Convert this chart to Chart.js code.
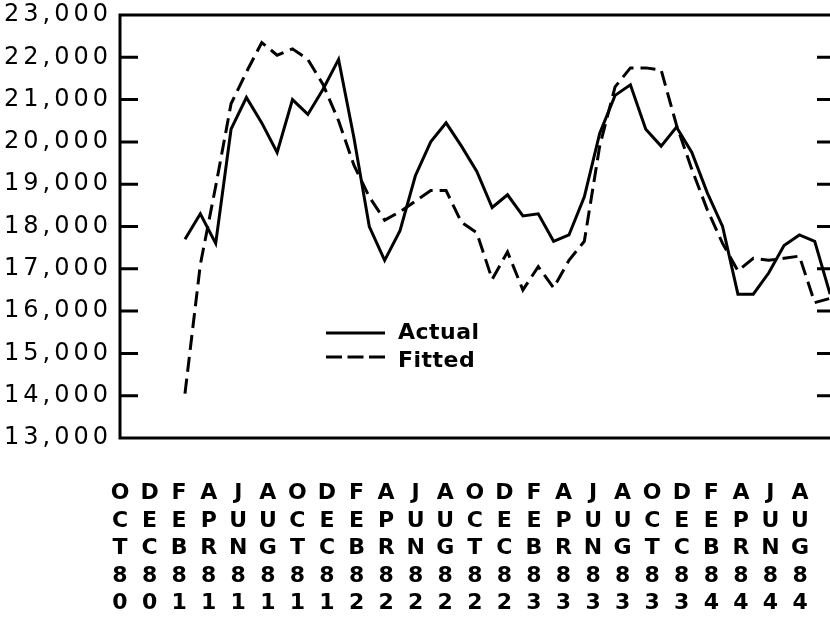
<!DOCTYPE html>
<html>
<head>
<meta charset="utf-8">
<script src="https://cdn.jsdelivr.net/npm/chart.js@4.4.1/dist/chart.umd.min.js"></script>
<style>
  html, body { margin: 0; padding: 0; background: #fff; overflow: hidden; }
  #wrap { width: 840px; height: 619px; }
</style>
</head>
<body>
<div id="wrap"><canvas id="fitChart" width="840" height="619"></canvas></div>
<script>
// monthly observations, FEB81 .. AUG84
const months = [
    'FEB81', 'MAR81', 'APR81', 'MAY81', 'JUN81', 'JUL81', 'AUG81', 'SEP81', 'OCT81', 'NOV81', 'DEC81',
    'JAN82', 'FEB82', 'MAR82', 'APR82', 'MAY82', 'JUN82', 'JUL82', 'AUG82', 'SEP82', 'OCT82', 'NOV82', 'DEC82',
    'JAN83', 'FEB83', 'MAR83', 'APR83', 'MAY83', 'JUN83', 'JUL83', 'AUG83', 'SEP83', 'OCT83', 'NOV83', 'DEC83',
    'JAN84', 'FEB84', 'MAR84', 'APR84', 'MAY84', 'JUN84', 'JUL84', 'AUG84'
];
const firstMonth = 4; // FEB81 counted from OCT80

const actual = [
    17700, 18300, 17600, 20300, 21050, 20450, 19750, 21000, 20650, 21250, 21950,
    20100, 18000, 17200, 17900, 19200, 20000, 20450, 19900, 19300, 18450, 18750, 18250,
    18300, 17650, 17800, 18700, 20200, 21100, 21350, 20300, 19900, 20350, 19750, 18800,
    18000, 16400, 16400, 16900, 17550, 17800, 17650, 16400
];
const fitted = [
    14050, 17100, 18950, 20900, 21650, 22350, 22050, 22200, 21950, 21350, 20500,
    19450, 18700, 18150, 18350, 18600, 18850, 18850, 18100, 17850, 16750, 17400, 16500,
    17050, 16550, 17200, 17650, 19900, 21300, 21750, 21750, 21700, 20400, 19350, 18400,
    17600, 16950, 17250, 17200, 17250, 17300, 16200, 16300
];

// bottom label row, every second month starting OCT80
const xTickLabels = [
    'OCT80', 'DEC80', 'FEB81', 'APR81', 'JUN81', 'AUG81', 'OCT81', 'DEC81',
    'FEB82', 'APR82', 'JUN82', 'AUG82', 'OCT82', 'DEC82', 'FEB83', 'APR83',
    'JUN83', 'AUG83', 'OCT83', 'DEC83', 'FEB84', 'APR84', 'JUN84', 'AUG84'
];
const yMin = 13000;
const yMax = 23000;
const yStep = 1000;

const FONT = "'DejaVu Sans', sans-serif";

const framePlugin = {
    id: 'frame',
    beforeDraw(chart) {
        chart.ctx.letterSpacing = '4px';
    },
    afterDraw(chart) {
        const ctx = chart.ctx;
        const a = chart.chartArea;
        const y = chart.scales.y;
        ctx.save();
        ctx.letterSpacing = '0px';
        ctx.strokeStyle = '#000';
        ctx.lineWidth = 3;
        ctx.setLineDash([]);
        ctx.strokeRect(a.left, a.top, a.right - a.left, a.bottom - a.top);

        // inward tick marks on both sides
        ctx.beginPath();
        y.ticks.forEach(function(t) {
            if (t.value <= yMin || t.value >= yMax) return;
            const py = y.getPixelForValue(t.value);
            ctx.moveTo(a.left, py);
            ctx.lineTo(a.left + 18, py);
            ctx.moveTo(a.right - 18, py);
            ctx.lineTo(a.right, py);
        });
        ctx.stroke();

        // legend inside the plot
        ctx.font = 'bold 22px ' + FONT;
        ctx.letterSpacing = '0.5px';
        ctx.fillStyle = '#000';
        ctx.textAlign = 'left';
        ctx.textBaseline = 'alphabetic';
        const rows = [[333, 339], [357, 366.5]];
        chart.data.datasets.forEach(function(ds, i) {
            ctx.setLineDash(i === 0 ? [] : [16, 5.5]);
            ctx.beginPath();
            ctx.moveTo(326, rows[i][0]);
            ctx.lineTo(385, rows[i][0]);
            ctx.stroke();
            ctx.fillText(ds.label, 398, rows[i][1]);
        });
        ctx.restore();
    }
};

function toPoints(values) {
    return values.map(function(v, i) {
        return { x: firstMonth + i, y: v };
    });
}

document.addEventListener('DOMContentLoaded', function() {
    const ctx = document.getElementById('fitChart').getContext('2d');
    new Chart(ctx, {
        type: 'line',
        data: {
            datasets: [{
                label: 'Actual',
                data: toPoints(actual),
                borderColor: '#000',
                borderWidth: 3,
                pointRadius: 0,
                tension: 0,
                fill: false
            }, {
                label: 'Fitted',
                data: toPoints(fitted),
                borderColor: '#000',
                borderWidth: 3,
                borderDash: [15, 7],
                pointRadius: 0,
                tension: 0,
                fill: false
            }]
        },
        options: {
            responsive: false,
            animation: false,
            devicePixelRatio: 1,
            layout: { padding: { top: 15, right: 5, bottom: 0, left: 0 } },
            plugins: {
                legend: { display: false },
                tooltip: { enabled: false }
            },
            scales: {
                x: {
                    type: 'linear',
                    display: false,
                    min: -0.23,
                    max: 46.32
                },
                xl: {
                    type: 'linear',
                    position: 'bottom',
                    min: -0.135,
                    max: 48.23,
                    grid: { display: false, drawTicks: false },
                    border: { display: false },
                    afterBuildTicks: function(axis) {
                        axis.ticks = xTickLabels.map(function(_, j) { return { value: 2 * j }; });
                    },
                    afterFit: function(axis) {
                        axis.height = 181;
                        axis.paddingLeft = 0;
                        axis.paddingRight = 0;
                    },
                    ticks: {
                        autoSkip: false,
                        maxRotation: 0,
                        padding: 42,
                        color: '#000',
                        font: { family: FONT, size: 22, weight: 'bold', lineHeight: '27.5px' },
                        callback: function(value) {
                            const lbl = xTickLabels[Math.round(value / 2)];
                            return lbl ? lbl.split('') : '';
                        }
                    }
                },
                y: {
                    min: yMin,
                    max: yMax,
                    grid: { display: false, drawTicks: false },
                    border: { display: false },
                    afterFit: function(axis) {
                        axis.width = 120;
                        axis.paddingTop = 0;
                        axis.paddingBottom = 0;
                    },
                    ticks: {
                        stepSize: yStep,
                        padding: 8,
                        color: '#000',
                        font: { family: FONT, size: 24 },
                        callback: function(value) {
                            return value.toLocaleString('en-US');
                        }
                    }
                }
            }
        },
        plugins: [framePlugin]
    });
});
</script>
</body>
</html>
